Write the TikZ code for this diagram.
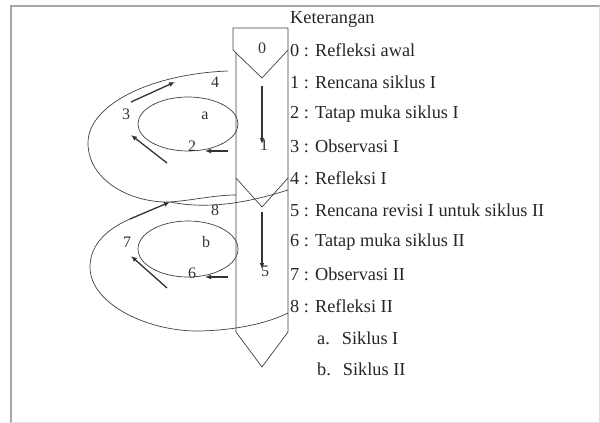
\documentclass[tikz,border=0pt]{standalone}
\usepackage{fontspec}
\setmainfont{Liberation Serif}
\usepackage{tikz}
\usetikzlibrary{arrows.meta,positioning,calc}

\tikzset{
    garis/.style={draw=black!75, line width=0.7pt},
    panah/.style={draw=black!80, line width=1.3pt, -{Latex[length=6pt,width=5pt]}},
    lbl/.style={inner sep=0pt, font=\fontsize{16}{18}\selectfont, text=black!80},
    ket/.style={inner sep=0pt, anchor=west, font=\fontsize{18.3}{20}\selectfont, text=black!85}
}

\begin{document}
\begin{tikzpicture}[x=1pt, y=-1pt]
    \useasboundingbox (0,0) rectangle (600,423);
    % frame
    \draw[gray!70, line width=1.6pt] (11,423) -- (11,6) -- (600,6);
    \draw[gray!25, line width=0.8pt] (11,422) -- (599,422) -- (599,6);

    % column (batang) with lid
    \draw[garis] (233,50) -- (233,28) -- (288,28) -- (288,332) -- (262,367) -- (236,332) -- (236,52);
    \draw[garis] (233,50) -- (262,78) -- (288,50);
    \draw[garis] (236,178) -- (262,207) -- (288,178);

    % points of the loops
    \coordinate (o1) at (228,71);
    \coordinate (o1l) at (88,143);
    \coordinate (m) at (170,202);
    \coordinate (c1) at (236,195);
    \coordinate (r8) at (288,190);
    \coordinate (o2) at (130,219);
    \coordinate (o2l) at (90,267);
    \coordinate (o2b) at (200,331);
    \coordinate (r2) at (288,313);

    % outer loop siklus I
    \draw[garis] (o1) .. controls (150,74) and (88,105) .. (o1l)
        .. controls (88,180) and (130,203) .. (m)
        .. controls (195,200) and (215,195) .. (c1);
    \draw[garis] (m) .. controls (210,210) and (250,202) .. (r8);
    % outer loop siklus II
    \draw[garis] (o2) .. controls (100,232) and (90,250) .. (o2l)
        .. controls (90,305) and (150,332) .. (o2b)
        .. controls (240,330) and (270,322) .. (r2);

    % inner loops
    \draw[garis] (188,124) ellipse [x radius=50, y radius=27];
    \draw[garis] (188,249) ellipse [x radius=50, y radius=28];

    % labels in the picture
    \node[lbl] (n0) at (262,48) {0};
    \node[lbl] (n1) at (264,145) {1};
    \node[lbl] (n2) at (192,146) {2};
    \node[lbl] (n3) at (126,114) {3};
    \node[lbl] (n4) at (215,82) {4};
    \node[lbl] (n5) at (265,271) {5};
    \node[lbl] (n6) at (192,273) {6};
    \node[lbl] (n7) at (127,242) {7};
    \node[lbl] (n8) at (215,210) {8};
    \node[lbl] (na) at (205,116) {a};
    \node[lbl] (nb) at (206,242) {b};

    % arrows
    \coordinate (p1a) at (262,86);   \coordinate (p1b) at (262,144);
    \coordinate (p5a) at (262,212);  \coordinate (p5b) at (262,269);
    \coordinate (p2a) at (228,151);  \coordinate (p2b) at (205,151);
    \coordinate (p6a) at (228,277);  \coordinate (p6b) at (205,277);
    \coordinate (p3a) at (167,163);  \coordinate (p3b) at (131,135);
    \coordinate (p7a) at (167,288);  \coordinate (p7b) at (131,256);
    \coordinate (p4a) at (131,102);  \coordinate (p4b) at (175,82);
    \draw[panah] (p1a) -- (p1b);
    \draw[panah] (p5a) -- (p5b);
    \draw[panah] (p2a) -- (p2b);
    \draw[panah] (p6a) -- (p6b);
    \draw[panah] (p3a) -- (p3b);
    \draw[panah] (p7a) -- (p7b);
    \draw[panah] (p4a) -- (p4b);
    \draw[panah] (o2) -- (m);

    % keterangan
    \node[ket] (judul) at (290,19) {Keterangan};
    \foreach \i/\txt in {0/Refleksi awal, 1/Rencana siklus I, 2/Tatap muka siklus I,
        3/Observasi I, 4/Refleksi I, 5/Rencana revisi I untuk siklus II,
        6/Tatap muka siklus II, 7/Observasi II, 8/Refleksi II} {
        \node[ket] (k\i) at (290,{50+32*\i}) {\i\ : \txt};
    }
    \node[ket] (ka) at (317,338) {a.\hspace{12pt}Siklus I};
    \node[ket] (kb) at (317,369) {b.\hspace{12pt}Siklus II};
\end{tikzpicture}
\end{document}
